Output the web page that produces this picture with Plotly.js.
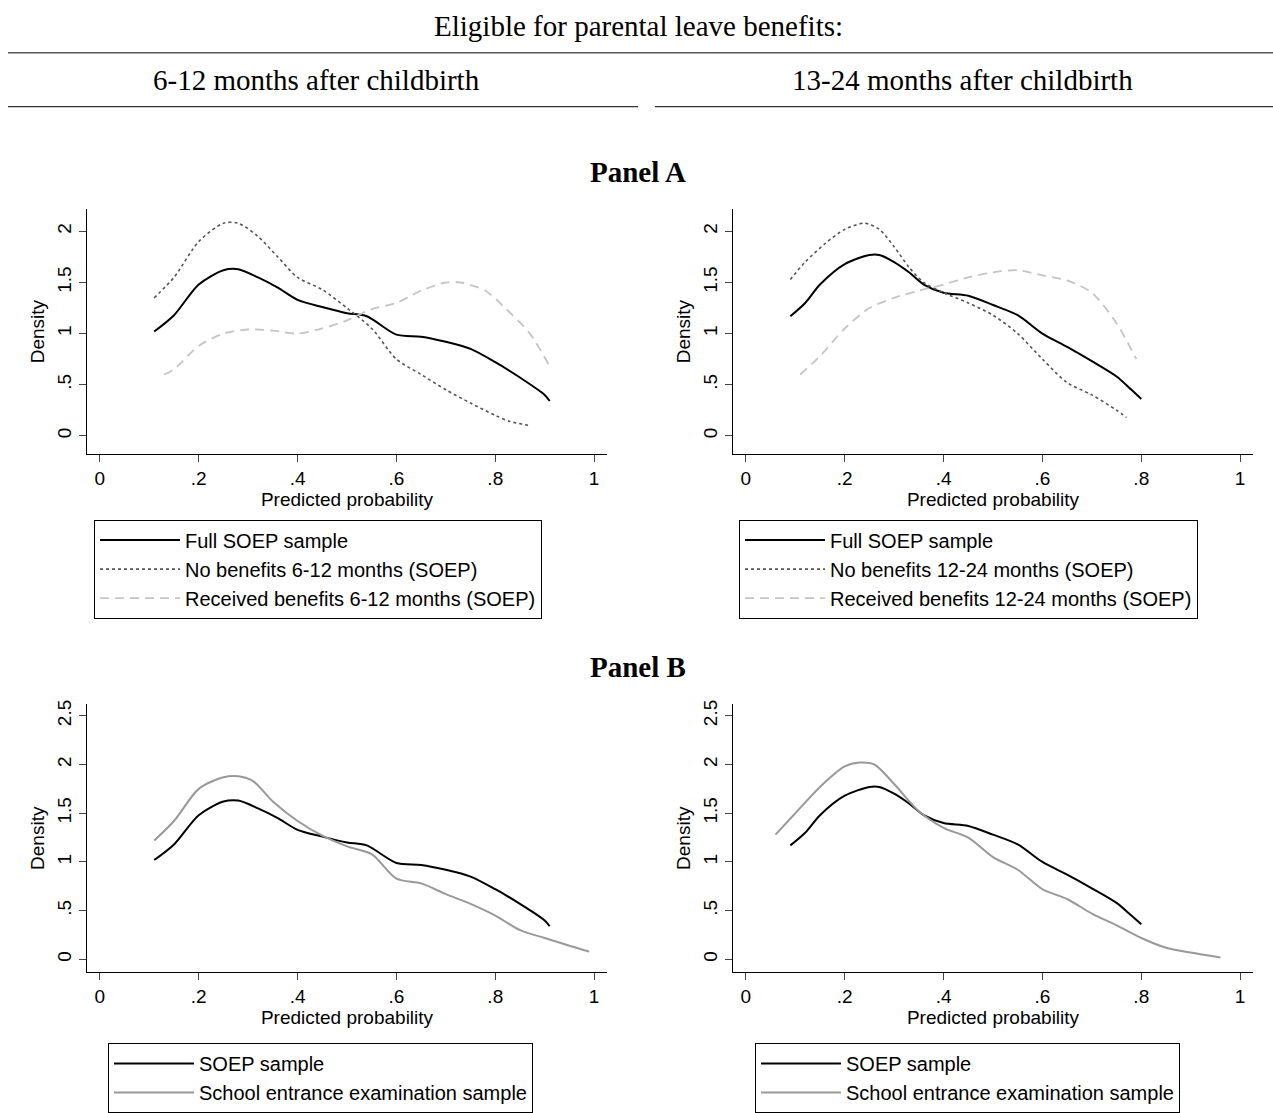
<!DOCTYPE html>
<html>
<head>
<script src="https://cdn.plot.ly/plotly-3.0.1.min.js"></script>
<style>body{margin:0;background:#fff}</style>
</head>
<body>
<div id="chart" style="width:1273px;height:1113px"></div>
<script>
// Panel A, 6-12 months
var aLx = [0.11,0.15,0.2,0.25,0.28,0.32,0.36,0.4,0.45,0.5,0.54,0.6,0.65,0.7,0.75,0.8,0.85,0.9,0.91];
var aLfull = [1.02,1.18,1.48,1.62,1.63,1.55,1.45,1.33,1.26,1.2,1.17,0.99,0.97,0.92,0.85,0.72,0.57,0.4,0.34];
var aLnox = [0.11,0.15,0.2,0.25,0.28,0.32,0.36,0.4,0.45,0.5,0.55,0.6,0.65,0.7,0.75,0.8,0.83,0.87];
var aLno = [1.35,1.55,1.9,2.08,2.08,1.95,1.75,1.55,1.43,1.25,1.05,0.75,0.6,0.45,0.32,0.2,0.14,0.1];
var aLrecx = [0.13,0.15,0.2,0.25,0.3,0.35,0.4,0.45,0.5,0.55,0.6,0.65,0.7,0.73,0.78,0.82,0.87,0.91];
var aLrec = [0.6,0.65,0.88,1.0,1.04,1.03,1.0,1.05,1.13,1.24,1.3,1.42,1.5,1.5,1.42,1.25,1.0,0.68];
// Panel A, 13-24 months
var aRx = [0.09,0.12,0.15,0.2,0.25,0.27,0.3,0.33,0.36,0.4,0.45,0.5,0.55,0.6,0.65,0.7,0.75,0.78,0.8];
var aRfull = [1.17,1.3,1.48,1.68,1.77,1.77,1.7,1.6,1.48,1.4,1.37,1.28,1.18,1.0,0.87,0.73,0.58,0.45,0.36];
var aRnox = [0.09,0.12,0.16,0.2,0.24,0.27,0.3,0.33,0.36,0.4,0.45,0.5,0.55,0.6,0.65,0.7,0.75,0.77];
var aRno = [1.53,1.7,1.88,2.02,2.08,2.02,1.85,1.65,1.5,1.4,1.3,1.18,1.0,0.75,0.52,0.4,0.25,0.18];
var aRrecx = [0.11,0.15,0.2,0.25,0.3,0.35,0.4,0.45,0.5,0.55,0.6,0.65,0.7,0.75,0.79];
var aRrec = [0.6,0.78,1.05,1.25,1.35,1.42,1.48,1.55,1.6,1.62,1.57,1.52,1.4,1.1,0.75];
// Panel B school entrance samples
var bLx = [0.11,0.15,0.2,0.25,0.28,0.31,0.35,0.4,0.45,0.5,0.55,0.6,0.65,0.7,0.75,0.8,0.85,0.9,0.95,0.99];
var bLsch = [1.22,1.42,1.75,1.87,1.88,1.83,1.62,1.42,1.27,1.16,1.08,0.83,0.78,0.67,0.57,0.45,0.3,0.22,0.14,0.08];
var bRx = [0.06,0.1,0.15,0.2,0.23,0.26,0.3,0.35,0.4,0.45,0.5,0.55,0.6,0.65,0.7,0.75,0.8,0.85,0.9,0.96];
var bRsch = [1.28,1.5,1.77,1.98,2.02,2.0,1.8,1.52,1.35,1.25,1.05,0.92,0.72,0.62,0.47,0.35,0.22,0.12,0.07,0.02];

var W = 1273, H = 1113;
var fx = function(p){return p/W;}, fy = function(p){return 1-p/H;};
var ff = 'Liberation Sans, Arial, sans-serif';
var sf = 'Liberation Serif, Times New Roman, serif';

function tr(x,y,name,ax,line,leg){
  line.shape = 'spline'; line.smoothing = 0.8;
  return {x:x,y:y,name:name,type:'scatter',mode:'lines',line:line,
    xaxis:'x'+ax,yaxis:'y'+ax,legend:leg};
}
function solid(){return {color:'black',width:2};}
function dot(){return {color:'#555',width:1.6,dash:'dot'};}
function dash(){return {color:'#c4c4c4',width:1.8,dash:'9px,6px'};}
function gray(){return {color:'#999',width:2};}
var data = [
  tr(aLx,aLfull,'Full SOEP sample','',solid(),'legend'),
  tr(aLnox,aLno,'No benefits 6-12 months (SOEP)','',dot(),'legend'),
  tr(aLrecx,aLrec,'Received benefits 6-12 months (SOEP)','',dash(),'legend'),
  tr(aRx,aRfull,'Full SOEP sample','2',solid(),'legend2'),
  tr(aRnox,aRno,'No benefits 12-24 months (SOEP)','2',dot(),'legend2'),
  tr(aRrecx,aRrec,'Received benefits 12-24 months (SOEP)','2',dash(),'legend2'),
  tr(aLx,aLfull,'SOEP sample','3',solid(),'legend3'),
  tr(bLx,bLsch,'School entrance examination sample','3',gray(),'legend3'),
  tr(aRx,aRfull,'SOEP sample','4',solid(),'legend4'),
  tr(bRx,bRsch,'School entrance examination sample','4',gray(),'legend4')
];

function xax(l,r,anchor){
  return {domain:[fx(l),fx(r)],range:[-0.026,1.026],anchor:anchor,
    tickvals:[0,0.2,0.4,0.6,0.8,1],ticktext:['0','.2','.4','.6','.8','1'],
    ticks:'outside',ticklen:7,showline:true,linecolor:'black',showgrid:false,zeroline:false,
    tickfont:{family:ff,size:19,color:'black'},
    title:{text:'Predicted probability',font:{family:ff,size:19,color:'black'},standoff:0}};
}
function yax(t,b,lo,hi,vals,txt,anchor){
  return {domain:[fy(b),fy(t)],range:[lo,hi],anchor:anchor,tickvals:vals,ticktext:txt,
    tickangle:-90,ticks:'outside',ticklen:7,showline:true,linecolor:'black',showgrid:false,zeroline:false,
    tickfont:{family:ff,size:19,color:'black'},
    title:{text:'Density',font:{family:ff,size:19,color:'black'},standoff:4}};
}
var av=[0,0.5,1,1.5,2], at=['0','.5','1','1.5','2'];
var bv=[0,0.5,1,1.5,2,2.5], bt=['0','.5','1','1.5','2','2.5'];
function leg(x,y){
  return {x:fx(x),y:fy(y),xanchor:'left',yanchor:'top',bordercolor:'black',borderwidth:1,
    bgcolor:'white',font:{family:ff,size:20,color:'black'},tracegroupgap:0,itemwidth:80};
}
function ann(t,x,y,s,b){
  return {text:b?'<b>'+t+'</b>':t,x:fx(x),y:fy(y),xref:'paper',yref:'paper',showarrow:false,
    xanchor:'center',yanchor:'middle',font:{family:sf,size:s,color:'black'}};
}
var layout = {
  width:W,height:H,margin:{l:0,r:0,t:0,b:0},paper_bgcolor:'white',plot_bgcolor:'white',
  xaxis:xax(87,607,'y'), yaxis:yax(210,455,-0.176,2.215,av,at,'x'),
  xaxis2:xax(733,1253,'y2'), yaxis2:yax(210,455,-0.176,2.215,av,at,'x2'),
  xaxis3:xax(87,607,'y3'), yaxis3:yax(706,975,-0.133,2.62,bv,bt,'x3'),
  xaxis4:xax(733,1253,'y4'), yaxis4:yax(706,975,-0.133,2.62,bv,bt,'x4'),
  legend:leg(94,521), legend2:leg(739,521), legend3:leg(108,1046), legend4:leg(755,1046),
  annotations:[
    ann('Eligible for parental leave benefits:',638,26,29),
    ann('6-12 months after childbirth',316,80,29),
    ann('13-24 months after childbirth',962,80,29),
    ann('Panel A',638,172,29,true),
    ann('Panel B',638,669,29,true)
  ],
  shapes:[
    {type:'line',xref:'paper',yref:'paper',x0:fx(8),x1:fx(1273),y0:fy(53),y1:fy(53),line:{color:'black',width:1}},
    {type:'line',xref:'paper',yref:'paper',x0:fx(8),x1:fx(638),y0:fy(107),y1:fy(107),line:{color:'black',width:1}},
    {type:'line',xref:'paper',yref:'paper',x0:fx(655),x1:fx(1273),y0:fy(107),y1:fy(107),line:{color:'black',width:1}}
  ]
};
Plotly.newPlot('chart',data,layout,{staticPlot:true});
</script>
</body>
</html>
